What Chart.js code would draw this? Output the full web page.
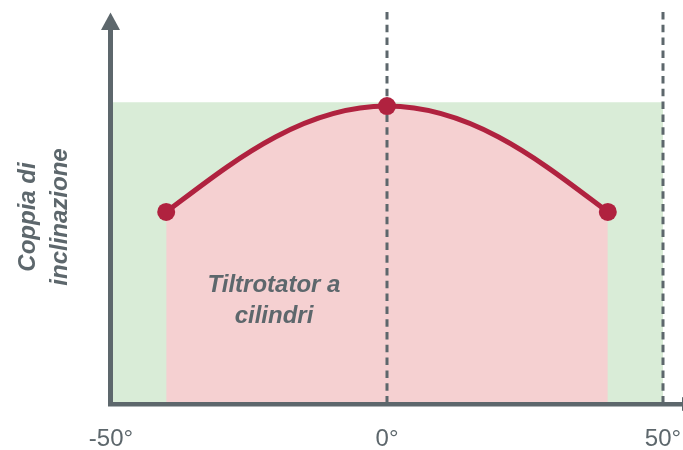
<!DOCTYPE html>
<html>
<head>
<meta charset="utf-8">
<script src="https://cdn.jsdelivr.net/npm/chart.js@4.4.1/dist/chart.umd.min.js"></script>
<style>
    html, body { margin: 0; padding: 0; background: #fff; overflow: hidden; }
    #wrap { width: 720px; height: 450px; position: relative; }
</style>
</head>
<body>
<div id="wrap"><canvas id="coppia"></canvas></div>
<script>
// dati
const angoli = [-40, 0, 40]          // gradi
const coppia = [49, 76, 49]          // coppia di inclinazione (scala relativa 0-100)
const campoAngoli = [-50, 50]        // zona verde
const campoCoppia = [77, 77]
const lineeTratteggiate = [0, 50]
const tickX = [-50, 0, 50]
const titoloY = ['Coppia di', 'inclinazione']
const etichetta = ['Tiltrotator a', 'cilindri']

const GRIGIO = '#5d676c'
const ROSSO = '#b0223f'
const ROSA = '#f5d0d1'
const VERDE = '#d9ecd7'
const FONT = '"Liberation Sans", Arial, sans-serif'

//rende la curva "a cupola": punti di controllo agli estremi più ripidi
const cupolaPlugin = {
    id: 'cupola',
    afterDatasetsUpdate(chart) {
        const line = chart.getDatasetMeta(0).dataset
        line.updateControlPoints(chart.chartArea, 'x')
        const pts = line.points
        const n = pts.length - 1
        const a = pts[0], b = pts[1]
        a.cp2x = a.x + (b.x - a.x) * 0.27
        a.cp2y = a.y + (b.y - a.y) * 0.42
        const c = pts[n], d = pts[n - 1]
        c.cp1x = c.x + (d.x - c.x) * 0.27
        c.cp1y = c.y + (d.y - c.y) * 0.42
    }
}

//disegna assi con frecce, titolo asse y ed etichetta interna
const assiPlugin = {
    id: 'assi',
    afterDatasetsDraw(chart) {
        const ctx = chart.ctx
        const x = chart.scales.x
        const y = chart.scales.y
        const x0 = x.getPixelForValue(-50) - 0.5
        const y0 = y.getPixelForValue(0)
        const yTop = chart.chartArea.top
        ctx.save()
        ctx.fillStyle = GRIGIO
        //asse y
        ctx.fillRect(x0 - 2.5, yTop + 16, 5, y0 - yTop - 14)
        ctx.beginPath()
        ctx.moveTo(x0, yTop + 0.5)
        ctx.lineTo(x0 + 9.5, yTop + 18)
        ctx.lineTo(x0 - 9.5, yTop + 18)
        ctx.closePath()
        ctx.fill()
        //asse x
        ctx.fillRect(x0 - 2.5, y0 - 2, chart.width - x0, 4.5)
        ctx.beginPath()
        ctx.moveTo(682, y0 - 7)
        ctx.lineTo(700, y0)
        ctx.lineTo(682, y0 + 7)
        ctx.closePath()
        ctx.fill()

        //titolo asse y
        ctx.font = 'italic bold 24px ' + FONT
        ctx.textAlign = 'center'
        ctx.textBaseline = 'middle'
        ctx.translate(28, 217)
        ctx.rotate(-Math.PI / 2)
        titoloY.forEach((t, i) => ctx.fillText(t, 0, i * 32))
        ctx.restore()

        //etichetta nella zona rosa
        ctx.save()
        ctx.font = 'italic bold 24px ' + FONT
        ctx.fillStyle = GRIGIO
        ctx.textAlign = 'center'
        ctx.textBaseline = 'alphabetic'
        etichetta.forEach((t, i) => ctx.fillText(t, 274, 292 + i * 31))
        ctx.restore()
    }
}

const ctx = document.getElementById('coppia').getContext('2d')
const grafico = new Chart(ctx, {
    type: 'scatter',
    data: {
        datasets: [
            {
                label: 'Tiltrotator a cilindri',
                data: angoli.map((a, i) => ({x: a, y: coppia[i]})),
                showLine: true,
                tension: 0.4,
                borderColor: ROSSO,
                borderWidth: 5,
                backgroundColor: ROSA,
                fill: 'origin',
                pointRadius: 9,
                pointBackgroundColor: ROSSO,
                pointBorderWidth: 0,
                clip: 12,
                order: 0
            },
            ...lineeTratteggiate.map(v => ({
                data: [{x: v, y: 100}, {x: v, y: 0}],
                showLine: true,
                borderColor: GRIGIO,
                borderWidth: 3,
                borderDash: [7.5, 5.3],
                pointRadius: 0,
                fill: false,
                clip: 4,
                order: 1
            })),
            {
                label: 'campo',
                data: campoAngoli.map((a, i) => ({x: a, y: campoCoppia[i]})),
                showLine: true,
                borderWidth: 0,
                pointRadius: 0,
                backgroundColor: VERDE,
                fill: 'origin',
                order: 3
            }
        ]
    },
    options: {
        responsive: true,
        maintainAspectRatio: false,
        animation: false,
        layout: {
            padding: {left: 111, right: 57, top: 12, bottom: 0}
        },
        plugins: {
            legend: {display: false},
            tooltip: {enabled: false},
            filler: {drawTime: 'beforeDatasetsDraw'}
        },
        scales: {
            x: {
                type: 'linear',
                min: -50,
                max: 50,
                afterBuildTicks: (scale) => {
                    scale.ticks = tickX.map(v => ({value: v}))
                },
                afterFit: (scale) => {
                    scale.height = 46
                },
                grid: {display: false},
                border: {display: false},
                ticks: {
                    padding: 13,
                    color: GRIGIO,
                    font: {size: 24, family: FONT},
                    callback: (v) => v + '°'
                }
            },
            y: {
                display: false,
                min: 0,
                max: 100
            }
        }
    },
    plugins: [cupolaPlugin, assiPlugin]
});
</script>
</body>
</html>
